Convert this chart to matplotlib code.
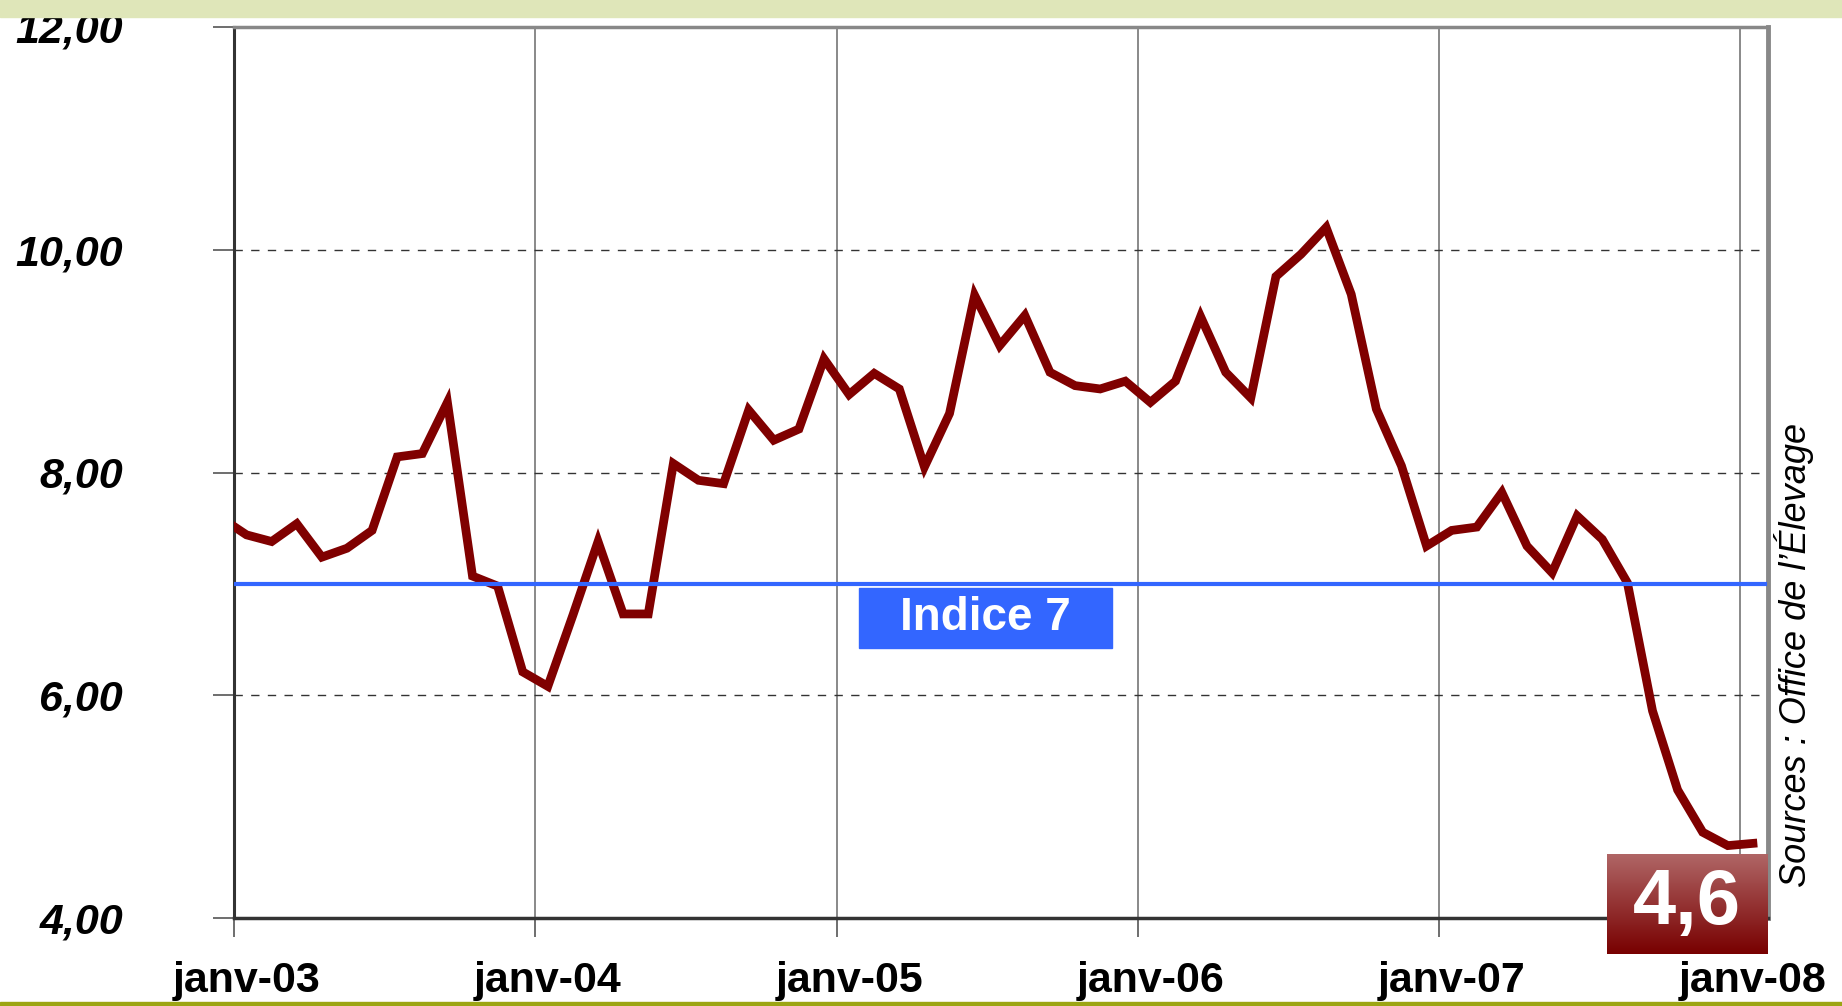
import numpy as np
import pandas as pd
from matplotlib import pyplot as plt
from matplotlib.patches import Rectangle

plt.rcParams['font.family'] = ['Liberation Sans', 'DejaVu Sans']

# monthly series, Dec 2002 -> Jan 2008
months = pd.period_range('2002-12', '2008-01', freq='M')
values = [7.59,
          7.44, 7.38, 7.54, 7.24, 7.32, 7.48, 8.14, 8.17, 8.63, 7.07, 6.98, 6.21,
          6.08, 6.72, 7.38, 6.73, 6.73, 8.08, 7.93, 7.90, 8.56, 8.29, 8.39, 9.02,
          8.70, 8.89, 8.75, 8.05, 8.53, 9.59, 9.14, 9.41, 8.90, 8.78, 8.75, 8.82,
          8.63, 8.82, 9.40, 8.90, 8.67, 9.76, 9.96, 10.20, 9.60, 8.57, 8.06, 7.34,
          7.48, 7.51, 7.82, 7.34, 7.10, 7.61, 7.40, 7.01, 5.86, 5.15, 4.77, 4.65,
          4.67]
indice = 7.0
last_value = "4,6"
years = [2003, 2004, 2005, 2006, 2007, 2008]
year_labels = ["janv-03", "janv-04", "janv-05", "janv-06", "janv-07", "janv-08"]
y_ticks = [4, 6, 8, 10, 12]
source = "Sources : Office de l\u2019\u00c9levage"

# month index from Jan 2003, point placed mid-month
x = np.array([(p.year - 2003) * 12 + p.month - 1 for p in months]) + 0.5
year_pos = [(y - 2003) * 12 for y in years]

fig = plt.figure(figsize=(18.42, 10.06), dpi=100)
fig.patches.append(Rectangle((0, 1 - 17 / 1006), 1, 17 / 1006, transform=fig.transFigure,
                             color="#dfe6b9", zorder=0))
fig.patches.append(Rectangle((0, 0), 1, 4.5 / 1006, transform=fig.transFigure,
                             color="#9ca513", zorder=0))

ax = fig.add_axes([234 / 1842, 88 / 1006, 1534 / 1842, 891 / 1006])
ax.plot(x, values, c="#800000", lw=6.3, solid_joinstyle="miter", zorder=3)
ax.axhline(indice, xmin=0.0, xmax=0.998, c="#3366ff", lw=3, zorder=4)

ax.set_xlim(0, 61.1)
ax.set_ylim(4, 12)

ax.set_xticks(year_pos)
ax.set_xticklabels([])
ax.set_xticks([p + 0.5 for p in year_pos], minor=True)
ax.set_xticklabels(year_labels, minor=True, fontsize=31, fontweight="bold")
ax.tick_params(axis="x", which="major", length=14, width=1.2, color="#555555", direction="out")
ax.tick_params(axis="x", which="minor", length=0, pad=31)

ax.set_yticks(y_ticks)
ax.set_yticklabels(["%d,00" % v for v in y_ticks], fontsize=31, fontweight="bold", fontstyle="italic")
ax.tick_params(axis="y", length=15, width=1.2, color="#555555", direction="out", pad=65)

for xp in year_pos[1:]:
    ax.axvline(xp, c="#808080", lw=1.3, zorder=1)
for yv in y_ticks[1:-1]:
    ax.axhline(yv, c="#333333", lw=1.0, ls=(0, (6, 6)), zorder=1)

ax.spines["left"].set_color("#333333")
ax.spines["left"].set_linewidth(2.2)
ax.spines["bottom"].set_color("#333333")
ax.spines["bottom"].set_linewidth(2.5)
ax.spines["top"].set_color("#888888")
ax.spines["top"].set_linewidth(2.5)
ax.spines["right"].set_color("#888888")
ax.spines["right"].set_linewidth(3.5)

# Indice 7 label box
ax.add_patch(Rectangle((0.4074, 0.303), 0.165, 0.0673, transform=ax.transAxes,
                       color="#3366ff", zorder=5))
ax.text(0.4074 + 0.165 / 2, 0.303 + 0.0673 / 2, "Indice 7", transform=ax.transAxes,
        ha="center", va="center", color="white", fontsize=33, fontweight="bold", zorder=6)

# last value box with gradient
bx = fig.add_axes([1607 / 1842, 52 / 1006, 160 / 1842, 100 / 1006])
grad = np.linspace(0, 1, 256).reshape(-1, 1)
top_c = np.array([0.69, 0.40, 0.40])
bot_c = np.array([0.47, 0.0, 0.0])
img = top_c[None, None, :] * (1 - grad[:, :, None]) + bot_c[None, None, :] * grad[:, :, None]
bx.imshow(img, aspect="auto", extent=[0, 1, 0, 1])
bx.set_axis_off()
bx.text(0.5, 0.5, last_value, ha="center", va="center", color="white",
        fontsize=56, fontweight="bold", transform=bx.transAxes)

fig.text(1794 / 1842, 1 - 655 / 1006, source, rotation=90, ha="center", va="center",
         fontsize=26, fontstyle="italic")

plt.savefig("out.png", dpi=100)
